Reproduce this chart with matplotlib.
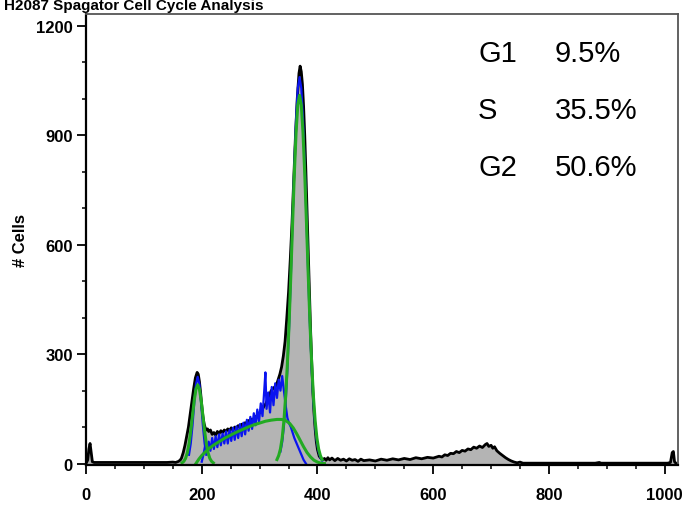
import matplotlib
matplotlib.use('Agg')
import matplotlib.pyplot as plt
from matplotlib.ticker import MultipleLocator

plt.rcParams['font.family'] = ['Liberation Sans', 'DejaVu Sans']

# DNA content histogram (channel, count)
hist_x = [0, 3, 5, 7, 9, 11, 14, 20, 60, 100, 140, 150, 155, 160, 163,
          165, 168, 171, 174, 177, 180, 183, 186, 189, 192, 194, 196, 198, 200,
          202, 204, 206, 208, 210, 212, 215, 218, 221, 224, 227, 230, 233, 236,
          239, 242, 245, 248, 251, 254, 257, 260, 263, 266, 269, 272, 275, 278,
          281, 284, 287, 290, 293, 296, 299, 302, 305, 308, 311, 314, 317, 320,
          323, 326, 329, 332, 335, 338, 341, 344, 347, 350, 353, 356, 359, 362,
          365, 368, 370, 372, 374, 376, 378, 380, 382, 384, 386, 388, 390, 392,
          394, 396, 398, 400, 403, 406, 409, 412, 415, 418, 421, 425, 430, 435,
          440, 445, 450, 455, 460, 465, 470, 475, 480, 490, 500, 510, 520, 530,
          540, 550, 560, 570, 580, 590, 600, 610, 615, 620, 625, 630, 635, 640,
          645, 650, 655, 660, 665, 670, 675, 680, 685, 690, 693, 696, 700, 703,
          706, 710, 715, 720, 725, 730, 735, 740, 745, 750, 755, 800, 880, 887,
          890, 950, 1005, 1010, 1013, 1015, 1017, 1020]
hist_y = [0, 10, 40, 55, 30, 5, 3, 3, 3, 3, 3, 4, 3, 6, 10,
          15, 30, 50, 75, 100, 135, 170, 205, 235, 250, 245, 225, 195, 160,
          130, 110, 98, 92, 95, 88, 92, 80, 85, 78, 88, 82, 90, 85,
          92, 88, 95, 90, 98, 92, 100, 96, 104, 100, 108, 105, 112, 110,
          118, 115, 122, 120, 128, 132, 138, 142, 150, 158, 165, 178, 188, 200,
          205, 210, 215, 230, 245, 265, 295, 335, 400, 470, 560, 660, 780, 900,
          1000, 1070, 1090, 1075, 1040, 980, 900, 800, 690, 580, 470, 370, 280, 200,
          140, 95, 60, 38, 20, 14, 10, 14, 9, 16, 10, 15, 8, 14,
          9, 12, 7, 13, 9, 11, 6, 12, 8, 10, 7, 12, 9, 13,
          10, 14, 11, 16, 13, 17, 15, 20, 18, 24, 22, 28, 27, 33,
          30, 36, 34, 40, 38, 45, 42, 48, 44, 52, 55, 47, 50, 42,
          46, 35, 28, 22, 16, 11, 7, 4, 2, 4, 1, 1, 1, 3,
          1, 1, 1, 3, 30, 33, 5, 0]

# fitted G1 / S / G2 components (green)
g1_x = [166, 169, 172, 175, 178, 181, 184, 187, 190, 193, 196, 199, 202, 205,
        208, 211, 214, 217, 220]
g1_y = [2, 6, 14, 29, 54, 89, 131, 173, 204, 216, 204, 173, 131, 89,
        54, 29, 14, 6, 2]
s_x = [190, 195, 200, 210, 220, 230, 240, 250, 260, 270, 280, 290, 300, 310,
       320, 330, 338, 345, 352, 358, 364, 370, 376, 382, 388, 394, 400, 406, 412]
s_y = [0, 12, 22, 38, 50, 60, 70, 78, 86, 93, 100, 106, 111, 116,
       119, 121, 121, 118, 110, 98, 82, 64, 46, 30, 18, 9, 4, 1, 0]
g2_x = [330, 333, 336, 339, 342, 345, 348, 351, 354, 357, 360, 363, 366, 369,
        372, 375, 378, 381, 384, 387, 390, 393, 396, 399, 402, 405, 408]
g2_y = [11, 22, 40, 70, 117, 184, 274, 387, 519, 660, 795, 908, 984, 1010,
        984, 908, 795, 660, 519, 387, 274, 184, 117, 70, 40, 22, 11]

# blue traces
bpk_x = [178, 181, 184, 187, 190, 193, 196, 199, 202, 205, 208]
bpk_y = [24, 55, 104, 165, 217, 238, 217, 165, 104, 55, 24]
bs_x = [200, 203, 206, 209, 212, 215, 218, 221, 224, 227, 230, 233, 236, 239,
        242, 245, 248, 251, 254, 257, 260, 263, 266, 269, 272, 275, 278, 281,
        284, 287, 290, 293, 296, 299, 302, 305, 308, 310, 312, 315, 318, 321,
        324, 327, 330, 333, 336, 339, 342, 345, 348, 351, 354, 357, 360, 364,
        368, 372, 376, 380]
bs_y = [5, 25, 50, 30, 60, 35, 70, 40, 75, 45, 80, 50, 82, 55,
        88, 55, 92, 62, 98, 65, 102, 70, 108, 75, 112, 80, 120, 90,
        128, 95, 138, 105, 148, 115, 165, 130, 200, 250, 150, 195, 140, 210,
        160, 220, 180, 230, 200, 240, 200, 160, 125, 110, 100, 85, 70, 55,
        40, 25, 10, 0]
bg2_x = [336, 339, 342, 345, 348, 351, 354, 357, 360, 363, 366, 369, 372, 375,
         378, 381, 384, 387, 390, 393, 396, 399, 402, 405, 408]
bg2_y = [33, 59, 103, 168, 259, 376, 516, 669, 818, 945, 1030, 1060, 1030, 945,
         818, 669, 516, 376, 259, 168, 103, 59, 33, 17, 8]

phases = ['G1', 'S', 'G2']
percents = ['9.5%', '35.5%', '50.6%']

fig = plt.figure(figsize=(6.91, 5.06), dpi=100)
ax = fig.add_axes([86 / 691, 40 / 506, 592 / 691, 451 / 506])

ax.fill_between(hist_x, 0, hist_y, color='#b4b4b4', lw=0)
ax.plot(hist_x, hist_y, color='black', lw=2.0)
ax.plot(bs_x, bs_y, color='#0a14f0', lw=1.6)
ax.plot(bpk_x, bpk_y, color='#0a14f0', lw=1.6)
ax.plot(bg2_x, bg2_y, color='#0a14f0', lw=1.6)
for xs, ys in [(g1_x, g1_y), (s_x, s_y), (g2_x, g2_y)]:
    ax.plot(xs, ys, color='#22aa22', lw=2.2)

ax.set_xlim(0, 1023)
ax.set_ylim(-4, 1233)
ax.xaxis.set_major_locator(MultipleLocator(200))
ax.xaxis.set_minor_locator(MultipleLocator(50))
ax.yaxis.set_major_locator(MultipleLocator(300))
ax.yaxis.set_minor_locator(MultipleLocator(100))
ax.tick_params(which='major', length=6.5, width=1.3, labelsize=12, direction='out')
ax.tick_params(which='minor', length=3.2, width=1.1, direction='out')
ax.tick_params(axis='x', which='major', pad=9)
ax.tick_params(axis='y', which='major', pad=3)
for lab in ax.get_xticklabels() + ax.get_yticklabels():
    lab.set_fontweight('bold')
for side in ['left', 'bottom']:
    ax.spines[side].set_linewidth(1.6)
for side in ['top', 'right']:
    ax.spines[side].set_linewidth(1.3)
    ax.spines[side].set_color('#555555')

ax.set_ylabel('# Cells', fontsize=12, fontweight='bold', labelpad=6)

for i, (ph, pc) in enumerate(zip(phases, percents)):
    yb = (506 - (62 + 57 * i)) / 506
    fig.text(478 / 691, yb, ph, fontsize=21, va='baseline', ha='left')
    fig.text(555 / 691, yb, pc, fontsize=21, va='baseline', ha='left')

fig.text(4 / 691, 496 / 506, 'H2087 Spagator Cell Cycle Analysis',
         fontsize=11, fontweight='bold', va='baseline', ha='left')

fig.savefig('out.png', dpi=100)
